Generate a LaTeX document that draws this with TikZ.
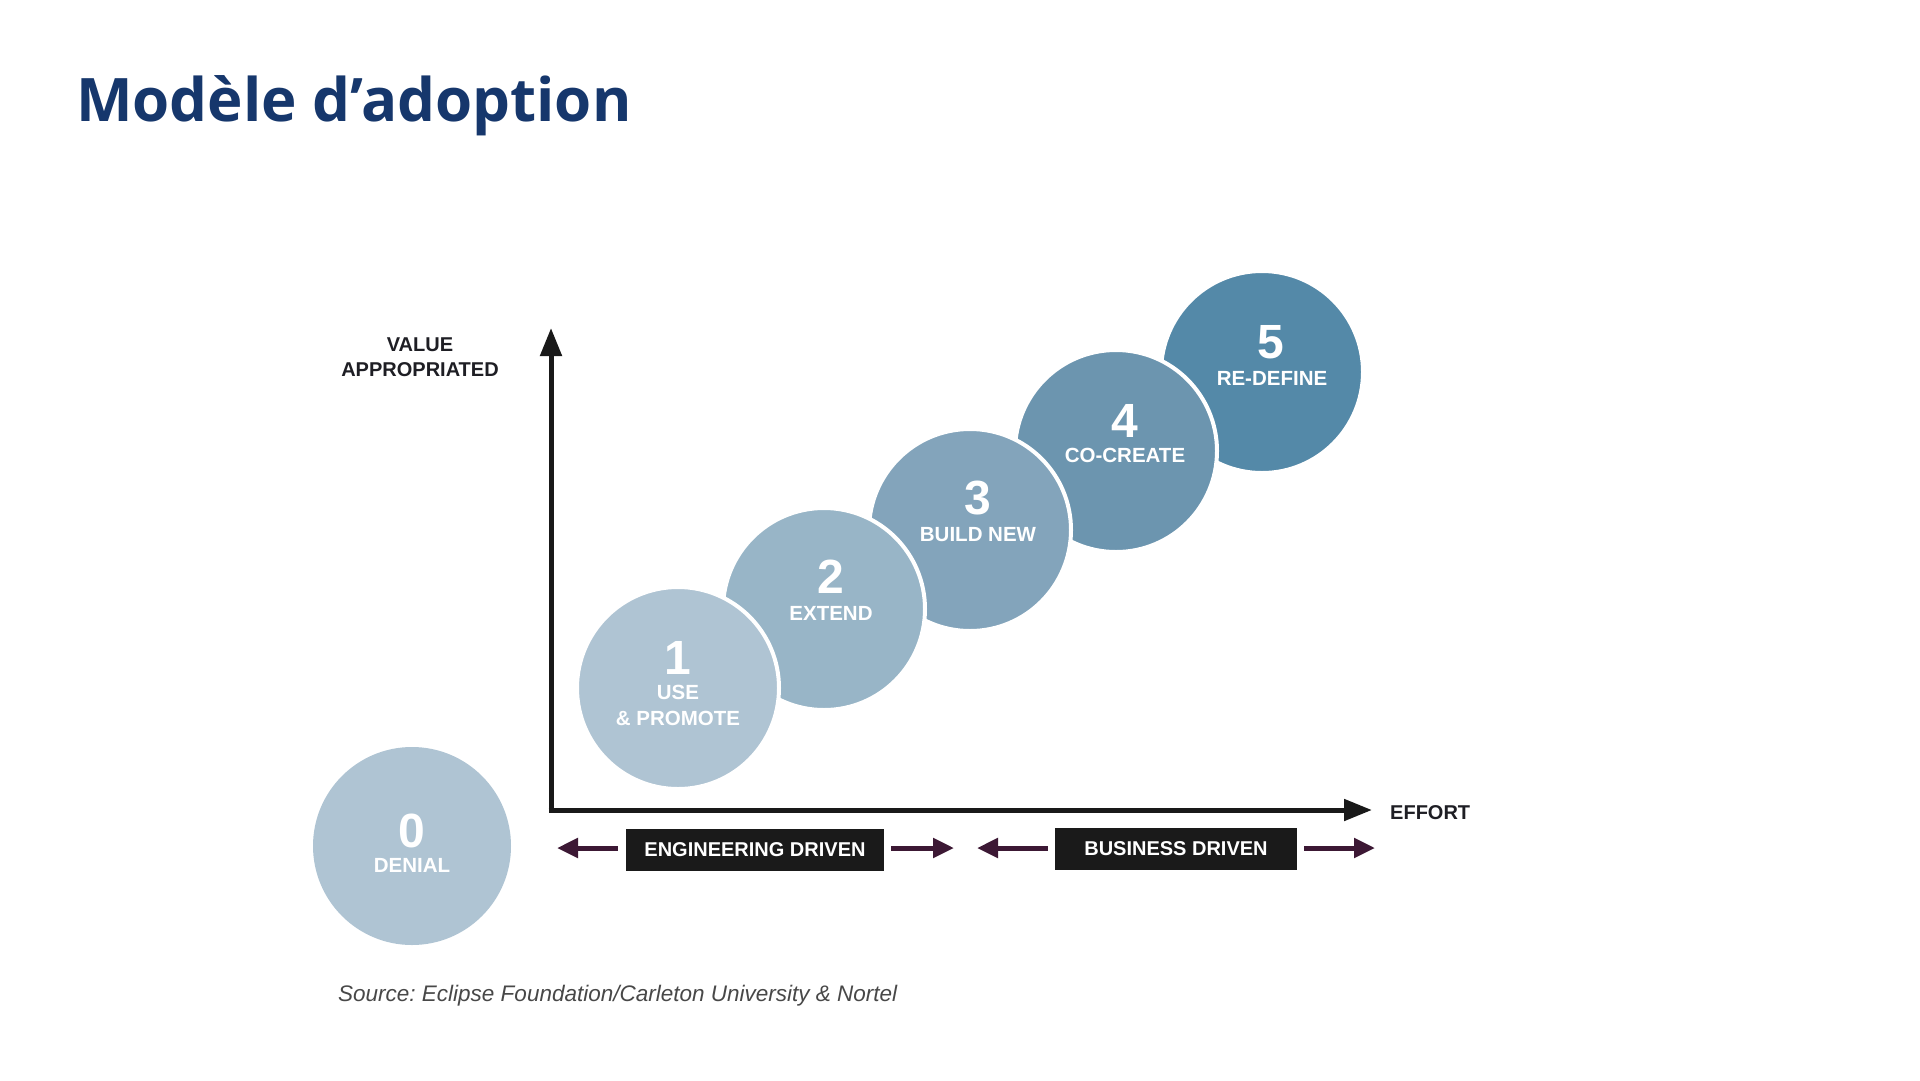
\documentclass[tikz,border=0pt]{standalone}
\usepackage{fontspec}
\setmainfont{Liberation Sans}
\newfontfamily\titlefont{Open Sans}
\usetikzlibrary{arrows.meta}
\definecolor{titleblue}{RGB}{22,55,108}
\definecolor{cA}{RGB}{175,196,211}
\definecolor{cB}{RGB}{152,181,199}
\definecolor{cC}{RGB}{131,164,187}
\definecolor{cD}{RGB}{108,149,175}
\definecolor{cE}{RGB}{84,137,168}
\definecolor{bandarrow}{RGB}{60,24,52}
\definecolor{boxblack}{RGB}{26,26,26}
\definecolor{axislabel}{RGB}{30,30,36}
\definecolor{srcgray}{RGB}{72,72,72}
\tikzset{
  stage/.style={circle, minimum size=202pt, inner sep=0pt, draw=white, line width=4pt},
  num/.style={text=white, font=\fontsize{48}{48}\selectfont\bfseries, inner sep=0pt},
  lab/.style={text=white, font=\fontsize{20.5}{26}\selectfont\bfseries, inner sep=0pt, align=center},
  axis/.style={line width=5pt, black!90, -{Triangle[length=28pt,width=21pt]}},
  band/.style={line width=5pt, bandarrow, -{Triangle[length=21pt,width=19pt]}},
  drivebox/.style={fill=boxblack, text=white, font=\fontsize{20}{20}\selectfont\bfseries, minimum height=42pt, inner sep=0pt},
  axlab/.style={text=axislabel, font=\fontsize{20}{25}\selectfont\bfseries, align=center, inner sep=0pt}
}
\begin{document}
\frenchspacing
\begin{tikzpicture}[x=1pt,y=-1pt]
\useasboundingbox (0,0) rectangle (1920,1080);
\fill[white] (0,0) rectangle (1920,1080);
% title
\node[anchor=base west, inner sep=0pt, text=titleblue, font=\titlefont\fontsize{60}{60}\selectfont\bfseries] (title) at (76,121) {Modèle d’adoption};
% axes
\coordinate (origin) at (551,810);
\coordinate (ytop) at (551,328);
\coordinate (xend) at (1372,810);
\draw[axis] ([yshift=-2.5pt]origin) -- (ytop);
\draw[axis] ([xshift=-2.5pt]origin) -- (xend);
\node[axlab] (yl) at (420,357) {VALUE\\APPROPRIATED};
\node[axlab, anchor=west] (xl) at (1390,813) {EFFORT};
% stages (drawn from 5 down so that lower stages sit on top)
\node[stage, fill=cE] (s5) at (1262,372) {};
\node[stage, fill=cD] (s4) at (1116,451) {};
\node[stage, fill=cC] (s3) at (970,530) {};
\node[stage, fill=cB] (s2) at (824,609) {};
\node[stage, fill=cA] (s1) at (678,688) {};
\node[stage, fill=cA, draw=none, minimum size=198pt] (s0) at (412,846) {};
% stage texts
\node[num] (n5) at ([xshift=9pt,yshift=30pt]s5.center) {5};
\node[lab] (l5) at ([xshift=10pt,yshift=-6pt]s5.center) {RE-DEFINE};
\node[num] (n4) at ([xshift=9pt,yshift=30pt]s4.center) {4};
\node[lab] (l4) at ([xshift=9pt,yshift=-4pt]s4.center) {CO-CREATE};
\node[num] (n3) at ([xshift=8pt,yshift=32pt]s3.center) {3};
\node[lab] (l3) at ([xshift=8pt,yshift=-5pt]s3.center) {BUILD NEW};
\node[num] (n2) at ([xshift=7pt,yshift=32pt]s2.center) {2};
\node[lab] (l2) at ([xshift=7pt,yshift=-4pt]s2.center) {EXTEND};
\node[num] (n1) at ([yshift=30pt]s1.center) {1};
\node[lab] (l1) at ([yshift=-17pt]s1.center) {USE\\\& PROMOTE};
\node[num] (n0) at ([yshift=15pt]s0.center) {0};
\node[lab] (l0) at ([yshift=-19pt]s0.center) {DENIAL};
% bands
\node[drivebox, minimum width=258pt] (eng) at (755,850) {ENGINEERING DRIVEN};
\node[drivebox, minimum width=242pt] (bus) at (1176,849) {BUSINESS DRIVEN};
\coordinate (eL) at (557,848);
\coordinate (eR) at (954,848);
\coordinate (bL) at (977,848);
\coordinate (bR) at (1375,848);
\draw[band] ([xshift=-8pt,yshift=2pt]eng.west) -- (eL);
\draw[band] ([xshift=7pt,yshift=2pt]eng.east) -- (eR);
\draw[band] ([xshift=-7pt,yshift=1pt]bus.west) -- (bL);
\draw[band] ([xshift=7pt,yshift=1pt]bus.east) -- (bR);
% source
\node[anchor=west, inner sep=0pt, text=srcgray, font=\fontsize{22.5}{22.5}\selectfont\itshape] (src) at (338,996) {Source: Eclipse Foundation/Carleton University \& Nortel};
\end{tikzpicture}
\end{document}
